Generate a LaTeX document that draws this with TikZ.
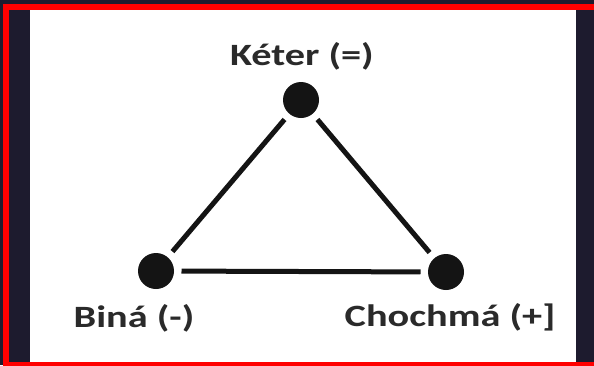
\documentclass[tikz,border=0pt]{standalone}
\usepackage{fontspec}
\usepackage{xcolor}
\usepackage{tikz}
\usetikzlibrary{positioning, calc}
\newfontfamily\lblfont{Carlito}[UprightFont=* Bold, FakeStretch=1.3]
\definecolor{frameblue}{HTML}{1D1B2E}
\definecolor{dotblack}{HTML}{141414}
\definecolor{lbltext}{HTML}{2A2A2A}

\begin{document}
\begin{tikzpicture}[x=1pt, y=-1pt,
  sefira/.style={circle, fill=dotblack, minimum size=36pt, inner sep=0pt, outer sep=7.5pt},
  seflabel/.style={anchor=base, inner sep=0pt, text=lbltext, font=\lblfont\fontsize{31}{31}\selectfont},
  link/.style={line width=5pt, draw=dotblack}]

  % frame
  \useasboundingbox (0,0) rectangle (594,365);
  \fill[frameblue] (0,0) rectangle (594,365);
  \begin{scope}
    \clip (0,0) rectangle (594,365);
    \draw[red, line width=6pt] (6,7) rectangle (600,365);
  \end{scope}
  \fill[white] (30,10) rectangle (576,362);

  % the three points
  \node[sefira] (keter) at (301,100) {};
  \node[sefira] (bina) at (156,271) {};
  \node[sefira] (chochma) at (446,272) {};

  \node[seflabel] (keterLbl) at (302,65) {Kéter (=)};
  \node[seflabel] (binaLbl) at (134,327) {Biná (-)};
  \node[seflabel] (chochmaLbl) at (450,326) {Chochmá (+]};

  \draw[link] (keter) -- (bina);
  \draw[link] (keter) -- (chochma);
  \draw[link] (bina) -- (chochma);
\end{tikzpicture}
\end{document}
